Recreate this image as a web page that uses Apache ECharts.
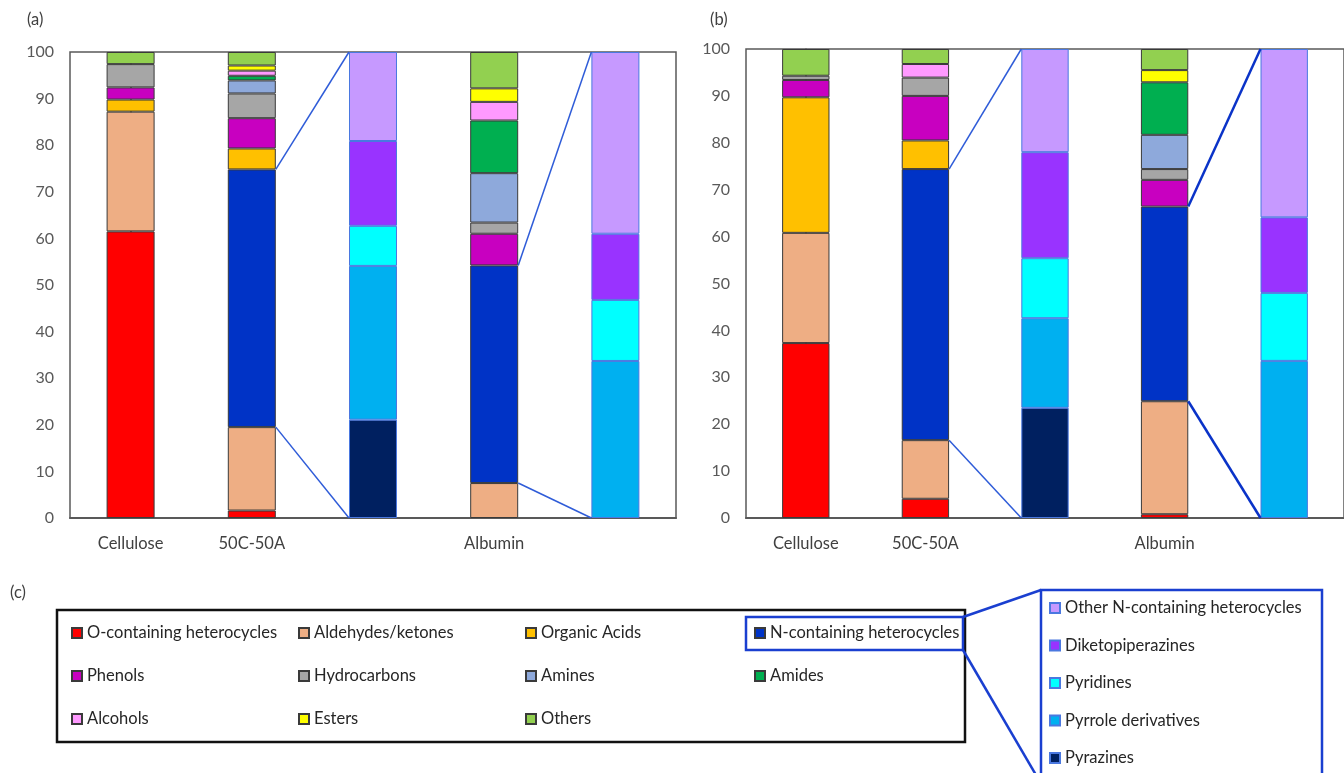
<!DOCTYPE html>
<html>
<head>
<meta charset="utf-8">
<script src="https://cdn.jsdelivr.net/npm/echarts@6/dist/echarts.min.js"></script>
<style>
html,body{margin:0;padding:0;background:#fff;}
#chart{width:1344px;height:773px;}
</style>
</head>
<body>
<div id="chart"></div>
<script>
// ---- data ----
const categories = ["Cellulose", "50C-50A", "", "Albumin", ""];
// stack order (bottom -> top)
const classNames = ["O-containing heterocycles", "Aldehydes/ketones", "N-containing heterocycles", "Organic Acids", "Phenols", "Hydrocarbons", "Amines", "Amides", "Alcohols", "Esters", "Others"];
const classColors = ["#FF0000", "#EEAE84", "#0033C6", "#FFC000", "#C800C0", "#A6A6A6", "#8EA9DB", "#00AF50", "#FF99FF", "#FFFF00", "#92D050"];
const subNames = ["Pyrazines", "Pyrrole derivatives", "Pyridines", "Diketopiperazines", "Other N-containing heterocycles"];
const subColors = ["#002060", "#00B0F0", "#00FFFF", "#9933FF", "#C699FF"];

// panel (a)
const aCellulose = [61.5, 25.7, 0, 2.6, 2.6, 5.0, 0, 0, 0, 0, 2.6];
const aBlend     = [1.6, 17.9, 55.3, 4.5, 6.5, 5.3, 2.8, 1.0, 1.1, 1.1, 2.9];
const aAlbumin   = [0, 7.5, 46.7, 0, 6.8, 2.4, 10.6, 11.3, 4.0, 2.9, 7.8];
const aBlendN    = [21.1, 33.0, 8.6, 18.2, 19.1];
const aAlbuminN  = [0, 33.7, 13.1, 14.2, 39.0];
// panel (b)
const bCellulose = [37.3, 23.5, 0, 28.9, 3.7, 0.9, 0, 0, 0, 0, 5.7];
const bBlend     = [4.1, 12.5, 57.8, 6.1, 9.5, 3.9, 0, 0, 2.9, 0, 3.2];
const bAlbumin   = [0.8, 24.1, 41.5, 0, 5.7, 2.3, 7.3, 11.2, 0, 2.6, 4.5];
const bBlendN    = [23.5, 19.1, 12.8, 22.6, 22.0];
const bAlbuminN  = [0, 33.5, 14.5, 16.1, 35.9];

const yTicks = [0, 10, 20, 30, 40, 50, 60, 70, 80, 90, 100];

// legend columns
const legendCols = [
  ["O-containing heterocycles", "Phenols", "Alcohols"],
  ["Aldehydes/ketones", "Hydrocarbons", "Esters"],
  ["Organic Acids", "Amines", "Others"],
  ["N-containing heterocycles", "Amides"]
];
const subLegend = ["Other N-containing heterocycles", "Diketopiperazines", "Pyridines", "Pyrrole derivatives", "Pyrazines"];

// ---- build ----
const FONT = "Lato";
const BAR_FRAC = 0.396;
const nz = v => (v ? v : null);
const nIdx = classNames.indexOf("N-containing heterocycles");

const panels = [
  {cel: aCellulose, blend: aBlend, alb: aAlbumin, blendN: aBlendN, albN: aAlbuminN, grid: {left: 70, top: 52, width: 606, bottom: 255}, thick: [1.5, 1.5], lineColor: ["#2F5CD8", "#2F5CD8"]},
  {cel: bCellulose, blend: bBlend, alb: bAlbumin, blendN: bBlendN, albN: bAlbuminN, grid: {left: 746, top: 49, width: 606, bottom: 255}, thick: [1.5, 2.5], lineColor: ["#2F5CD8", "#0A33C8"]}
];

const grids = [], xAxes = [], yAxes = [], series = [];
panels.forEach((p, g) => {
  grids.push(Object.assign({show: true, borderColor: "#595959", borderWidth: 1.5, containLabel: false}, p.grid));
  xAxes.push({type: "category", gridIndex: g, data: categories,
    axisLine: {show: true, lineStyle: {color: "#595959", width: 2}}, axisTick: {show: false},
    axisLabel: {color: "#404040", fontSize: 16.5, fontFamily: FONT, margin: 17, interval: 0}});
  yAxes.push({type: "value", gridIndex: g, min: yTicks[0], max: yTicks[yTicks.length - 1], interval: yTicks[1] - yTicks[0],
    axisLine: {show: true, lineStyle: {color: "#595959", width: 1.5}}, axisTick: {show: false}, splitLine: {show: false},
    axisLabel: {color: "#595959", fontSize: 16, fontFamily: FONT, margin: 16}});
  classNames.forEach((name, i) => {
    series.push({name, type: "bar", stack: "s" + g, xAxisIndex: g, yAxisIndex: g, barWidth: (BAR_FRAC * 100) + "%",
      itemStyle: {color: classColors[i], borderColor: "#3a3a3a", borderWidth: 1},
      data: [nz(p.cel[i]), nz(p.blend[i]), null, nz(p.alb[i]), null]});
  });
  subNames.forEach((name, j) => {
    series.push({name, type: "bar", stack: "s" + g, xAxisIndex: g, yAxisIndex: g, barWidth: (BAR_FRAC * 100) + "%",
      itemStyle: {color: subColors[j], borderColor: "#4A78E0", borderWidth: 1},
      data: [null, null, nz(p.blendN[j]), null, nz(p.albN[j])]});
  });
});
// hidden value x axes for connector lines
panels.forEach((p, g) => {
  xAxes.push({type: "value", gridIndex: g, min: -0.5, max: categories.length - 0.5, show: false});
});
const hw = BAR_FRAC / 2;
panels.forEach((p, g) => {
  const xi = panels.length + g;
  [[p.blend, 1, 0], [p.alb, 3, 1]].forEach(([arr, ci, k]) => {
    let bottom = 0;
    for (let i = 0; i < nIdx; i++) bottom += arr[i];
    const top = bottom + arr[nIdx];
    const ends = [[top, 100], [bottom, 0]];
    ends.forEach(([y0, y1]) => {
      series.push({type: "line", xAxisIndex: xi, yAxisIndex: g, symbol: "none", silent: true, z: 5,
        lineStyle: {color: p.lineColor[k], width: p.thick[k]},
        data: [[ci + hw, y0], [ci + 1 - hw, y1]]});
    });
  });
});

const legendBase = {orient: "vertical", selectedMode: false, icon: "rect", itemWidth: 10, itemHeight: 10, padding: 0,
  textStyle: {fontFamily: FONT, fontSize: 16.5, color: "#262626", lineHeight: 20}};
const colLeft = [71, 298, 525, 754];
const legends = legendCols.map((names, c) => Object.assign({}, legendBase, {data: names, left: colLeft[c], top: 623, itemGap: 23}));
legends.push(Object.assign({}, legendBase, {data: subLegend, left: 1049, top: 598, itemGap: 17.5, height: 175}));

const graphics = [
  {type: "text", left: 27, top: 11, style: {text: "(a)", font: "16.5px " + FONT, fill: "#404040"}},
  {type: "text", left: 710, top: 11, style: {text: "(b)", font: "16.5px " + FONT, fill: "#404040"}},
  {type: "text", left: 10, top: 584, style: {text: "(c)", font: "16.5px " + FONT, fill: "#404040"}},
  {type: "rect", shape: {x: 57, y: 610, width: 908, height: 132}, style: {fill: "none", stroke: "#111", lineWidth: 2.5}},
  {type: "rect", shape: {x: 746, y: 617, width: 217, height: 33}, style: {fill: "none", stroke: "#1A3FD0", lineWidth: 2.5}},
  {type: "rect", shape: {x: 1041, y: 590, width: 281, height: 200}, style: {fill: "none", stroke: "#1A3FD0", lineWidth: 2.5}},
  {type: "line", shape: {x1: 963, y1: 617, x2: 1041, y2: 590}, style: {stroke: "#1A3FD0", lineWidth: 2.5}},
  {type: "line", shape: {x1: 963, y1: 650, x2: 1036, y2: 775}, style: {stroke: "#1A3FD0", lineWidth: 2.5}}
];

const chart = echarts.init(document.getElementById("chart"));
chart.setOption({
  animation: false,
  backgroundColor: "#fff",
  grid: grids,
  xAxis: xAxes,
  yAxis: yAxes,
  legend: legends,
  series: series,
  graphic: graphics
});
</script>
</body>
</html>
